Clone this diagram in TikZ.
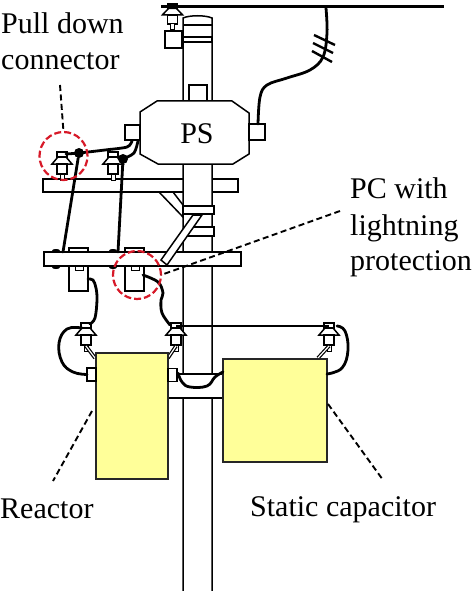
\documentclass[tikz,border=0pt]{standalone}
\usepackage{fontspec}
\setmainfont{Liberation Serif}
\usetikzlibrary{calc,positioning}
\definecolor{padyellow}{RGB}{255,255,153}
\definecolor{ringred}{RGB}{215,25,40}
\tikzset{
    % plain outlined parts
    part/.style={draw=black, fill=white, line width=1.5pt},
    smallbox/.style={part, rectangle, inner sep=0pt, outer sep=0pt},
    padbox/.style={draw=black!85, fill=padyellow, line width=1.6pt, rectangle, inner sep=0pt, outer sep=0pt},
    % wires
    wire/.style={line width=2.8pt, black, line cap=round},
    thinwire/.style={line width=2.2pt, black},
    busline/.style={line width=3pt, black},
    % markers and notes
    joint/.style={circle, fill=black, inner sep=0pt, minimum size=10pt},
    redring/.style={circle, draw=ringred, dash pattern=on 7pt off 3pt, line width=2.2pt,
                    inner sep=0pt, outer sep=0pt, minimum size=48pt},
    leader/.style={line width=1.9pt, black, dash pattern=on 6pt off 3.5pt},
    lab/.style={font=\fontsize{30}{34}\selectfont, inner sep=0pt, align=left},
    % insulator drawn round the point it is placed at
    insulator/.pic={
        \draw[part] (-5,0) rectangle (5,5);
        \draw[part] (-4,5) -- (4,5) -- (10,12) -- (-10,12) -- cycle;
        \draw[part] (-5,12) rectangle (5,22);
        \draw[part, line width=1pt] (-2,22) rectangle (2,28);
    },
}
\begin{document}
\begin{tikzpicture}[x=1pt,y=-1pt]
  \useasboundingbox (0,0) rectangle (474,591);

  % upper cross arm, then pole over it
  \node[smallbox, anchor=north west, minimum width=195pt, minimum height=13pt] (armup) at (43,179) {};
  \draw[part] (183,600) -- (183,18) .. controls (190,15) and (205,15) .. (212,18) -- (212,600);
  \draw[line width=1.5pt] (183,25) -- (212,25);
  \draw[part] (183,37) rectangle (212,42);
  \draw[part] (159,192) -- (173,192) -- (183,205) -- (183,217) -- cycle;
  \node[smallbox, anchor=north west, minimum width=31pt, minimum height=8pt] (bandup) at (183,206) {};
  \node[smallbox, anchor=north west, minimum width=30pt, minimum height=9pt] (banddown) at (184,227) {};

  % top insulator, bus and feed to the box
  \node[smallbox, anchor=north west, minimum width=17pt, minimum height=17pt] (topbox) at (165,31) {};
  \pic at (172.5,4) [yscale=0.9] {insulator};
  \coordinate (busleft) at (161,7);
  \coordinate (busright) at (444,7);
  \draw[busline] (busleft) -- (busright);

  % sealed box on the pole
  \node[smallbox, anchor=north west, minimum width=18pt, minimum height=16pt] (psneck) at (189,85) {};
  \draw[part, fill=white] (157,101) -- (232,101) -- (249,113) -- (249,154) -- (233,164)
     -- (158,164) -- (140,154) -- (140,112) -- cycle;
  \node[lab] (ps) at (197,134) {PS};
  \node[smallbox, anchor=west, minimum width=16pt, minimum height=16pt] (psright) at (249,132) {};
  \node[smallbox, anchor=east, minimum width=15pt, minimum height=15pt] (psleft) at (140,132.5) {};
  \draw[wire] plot[smooth,tension=0.6] coordinates {(258,124)(260,97)(267,85)(287,78)(310,70)(323,57)(327,33)(326,8)};
  \draw[line width=2.4pt] (314,35) -- (335,45) (313,43) -- (333,53) (312,51) -- (332,62);

  % lower cross arm in front of the pole
  \node[smallbox, anchor=north west, minimum width=197pt, minimum height=14pt] (armlow) at (44,252) {};
  \draw[part] (161,260) -- (167,265) -- (202,215) -- (193,215) -- cycle;
  \foreach \bx in {56,113}{
    \fill (\bx,250.5) ellipse (4pt and 1.5pt);
    \fill (\bx,267.5) ellipse (4pt and 1.5pt);
  }

  % cut-outs under the arm
  \foreach \fx/\fname in {69/pca,125/pcb}{
    \draw[part, line width=2pt] (\fx,248) rectangle ++(19,4);
    \node[smallbox, line width=2pt, anchor=north west, minimum width=19pt, minimum height=25pt] (\fname) at (\fx,266) {};
    \draw[line width=1pt] (\fx+6,266) rectangle ++(8,4);
  }

  % upper insulators and pull down wires
  \pic at (62,152) {insulator};
  \pic at (113,152) {insulator};
  \node[joint] (dota) at (79,153) {};
  \node[joint] (dotb) at (123,159) {};
  \coordinate (armpa) at (63,252);
  \coordinate (armpb) at (118,252);
  \draw[wire] (dota) -- (armpa);
  \draw[wire] (dotb) -- (armpb);
  \draw[wire] plot[smooth,tension=0.5] coordinates {(66,154)(dota)(105,150)(127,147)(132,141)};
  \draw[wire] plot[smooth,tension=0.5] coordinates {(dotb)(134,153)(138,141)};

  % short arm behind the yellow units
  \node[smallbox, anchor=north west, minimum width=55pt, minimum height=24pt] (armshort) at (168,374) {};

  % lower insulators
  \foreach \ix/\iname/\ex in {86/insa/95,176/insb/168,329/insc/318}{
    \pic at (\ix,323) {insulator};
    \coordinate (\iname) at (\ix,326);
    \draw[line width=3.6pt] (\ix,346) -- (\ex,358);
    \draw[white, line width=1.2pt] (\ix,346) -- (\ex,358);
  }
  \draw[thinwire] (insb) -- (insc);

  % yellow units and their terminals
  \node[padbox, anchor=north west, minimum width=72pt, minimum height=126pt] (reactor) at (96,353) {};
  \node[padbox, anchor=north west, minimum width=104pt, minimum height=103pt] (capacitor) at (223,359) {};
  \node[smallbox, anchor=east, minimum width=9pt, minimum height=13pt] (reactl) at (96,374.5) {};
  \node[smallbox, anchor=west, minimum width=9pt, minimum height=13pt] (reactr) at (168,375) {};

  % jumpers
  \draw[wire] plot[smooth,tension=0.6] coordinates {(88,279)(93,280)(96,288)(97,300)(95,318)(90,324)};
  \draw[wire] plot[smooth,tension=0.6] coordinates {(143,275)(158,282)(163,293)(161,300)(162,313)(170,325)};
  \draw[wire] plot[smooth,tension=0.7] coordinates {(82,328)(67,329)(59,343)(62,362)(73,372)(reactl.west)};
  \draw[wire] plot[smooth,tension=0.7] coordinates {(337,326)(345,331)(348,350)(342,368)(327,374)};
  \draw[wire] plot[smooth,tension=0.7] coordinates {(178,373)(182,382)(190,387)(207,386)(215,377)(223,372)};

  % marked spots and notes
  \node[redring] (ringa) at (63.5,156) {};
  \node[redring] (ringb) at (137,275) {};
  \node[lab, anchor=base west] (pull) at (1,34) {Pull down};
  \node[lab, anchor=base west] (conn) at (1,70) {connector};
  \node[lab, anchor=base west] (pcw) at (350,198) {PC with};
  \node[lab, anchor=base west] (ltn) at (350,235) {lightning};
  \node[lab, anchor=base west] (prt) at (350,270) {protection};
  \node[lab, anchor=base west] (reactlab) at (0,518) {Reactor};
  \node[lab, anchor=base west] (caplab) at (250,516) {Static capacitor};
  \coordinate (pullend) at (60,85);
  \coordinate (pcend) at (340,211);
  \coordinate (reactstart) at (92,411);
  \coordinate (reactend) at (53,481);
  \coordinate (capstart) at (328,404);
  \coordinate (capend) at (383,480);
  \draw[leader] (pullend) -- (ringa.north);
  \draw[leader] (pcend) -- (ringb.east);
  \draw[leader] (reactstart) -- (reactend);
  \draw[leader] (capstart) -- (capend);
\end{tikzpicture}
\end{document}
